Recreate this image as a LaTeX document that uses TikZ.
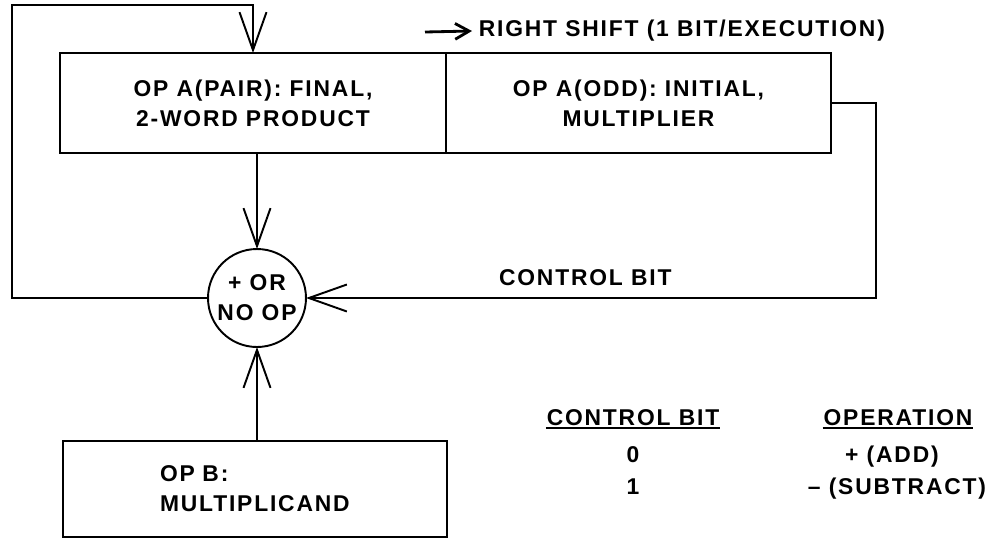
\documentclass[tikz,border=0pt]{standalone}
\usepackage{fontspec}
\setmainfont{Liberation Sans}[LetterSpace=8]
\usetikzlibrary{arrows.meta, positioning}

\begin{document}
\begin{tikzpicture}[x=0.02cm, y=-0.02cm, line width=1.1pt,
    >={Straight Barb[length=0.76cm, width=0.54cm]},
    font=\fontsize{13}{17}\selectfont\bfseries,
    reg/.style={draw, rectangle, minimum height=2cm, align=center, inner sep=0pt, outer sep=0pt},
    adder/.style={draw, circle, minimum size=1.96cm, align=center, inner sep=0pt, outer sep=0pt},
    colhead/.style={anchor=base, inner xsep=0pt}]
    \useasboundingbox (0,0) rectangle (992,542);

    \node[reg, minimum width=7.72cm] (pair) at (253,103) {OP A(PAIR): FINAL,\\2-WORD PRODUCT};
    \node[reg, minimum width=7.7cm, right=0pt of pair] (odd) {OP A(ODD): INITIAL,\\MULTIPLIER};
    \node[adder] (sum) at (257,298) {+ OR\\NO OP};
    \node[reg, minimum width=7.68cm, minimum height=1.92cm, text width=3.8cm, align=left] (opb) at (255,489) {OP B:\\MULTIPLICAND};

    \node[anchor=west] (shift) at (472,31) {RIGHT SHIFT (1 BIT/EXECUTION)};
    \coordinate (shiftfrom) at (425,32);
    \draw[line width=1.6pt, -{Straight Barb[length=8pt, width=9pt]}] (shiftfrom) -- (shift.west);

    \coordinate (lt) at (12,5);
    \coordinate (rt) at (876,298);
    \draw[->] (sum.west) -| (lt) -| (pair.north);
    \draw[->] (pair.south -| sum) -- (sum.north);
    \draw[->] (opb.north -| sum) -- (sum.south);
    \draw[->] (odd.east) -| (rt) -- node[above=3pt, pos=0.51] (ctl) {CONTROL BIT} (sum.east);

    \node[colhead] (hbit) at (633,425) {CONTROL BIT};
    \node[colhead] (hop) at (898,425) {OPERATION};
    \draw ([yshift=2.2pt]hbit.south west) -- ([yshift=2.2pt]hbit.south east);
    \draw ([yshift=2.2pt]hop.south west) -- ([yshift=2.2pt]hop.south east);
    \node[anchor=base] (b0) at (633,462) {0};
    \node[anchor=base] (b1) at (633,494) {1};
    \node[anchor=base] (op0) at (892,462) {+ (ADD)};
    \node[anchor=base] (op1) at (897,494) {-- (SUBTRACT)};
\end{tikzpicture}
\end{document}
